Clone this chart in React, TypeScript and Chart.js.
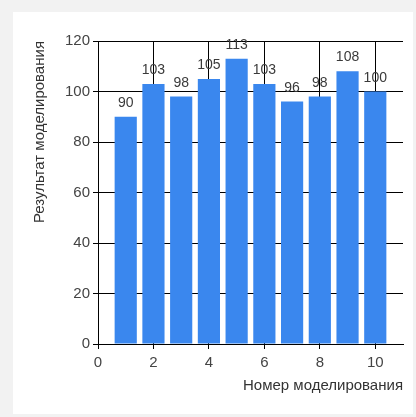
import React, { useEffect, useRef } from "react";
import { Chart, registerables } from "chart.js";

Chart.register(...registerables);

const runs = [1, 2, 3, 4, 5, 6, 7, 8, 9, 10];
const results = [90, 103, 98, 105, 113, 103, 96, 98, 108, 100];
const xTicks = [0, 2, 4, 6, 8, 10];
const yTitle = "Результат моделирования";
const xTitle = "Номер моделирования";

const FONT = "'Liberation Sans', Arial, sans-serif";

const labelPlugin = {
  id: "barLabels",
  afterDatasetsDraw(chart: any) {
    const ctx = chart.ctx;
    const meta = chart.getDatasetMeta(0);
    ctx.save();
    ctx.font = `14px ${FONT}`;
    ctx.fillStyle = "#3a3a3a";
    ctx.textAlign = "center";
    ctx.textBaseline = "alphabetic";
    meta.data.forEach((el: any, i: number) => {
      ctx.fillText(String(results[i]), el.x, el.y - 10);
    });
    ctx.restore();
  },
};

export default function App() {
  const ref = useRef<HTMLCanvasElement>(null);
  useEffect(() => {
    if (!ref.current) return;
    const chart = new Chart(ref.current, {
      type: "bar",
      data: {
        datasets: [
          {
            data: runs.map((r, i) => ({ x: r, y: results[i] })),
            backgroundColor: "#3a87ee",
            borderWidth: 0,
            barPercentage: 0.8,
            categoryPercentage: 1,
          },
        ],
      },
      options: {
        animation: false,
        responsive: false,
        maintainAspectRatio: false,
        layout: { padding: { left: 0, top: 29, right: 10, bottom: 0 } },
        plugins: { legend: { display: false }, tooltip: { enabled: false } },
        scales: {
          x: {
            type: "linear",
            min: 0,
            max: 11,
            offset: false,
            afterBuildTicks: (s: any) => {
              s.ticks = xTicks.map((v) => ({ value: v }));
            },
            afterFit: (s: any) => {
              s.height = 70;
            },
            grid: { color: "#000", lineWidth: 1, tickLength: 5, drawTicks: true, offset: false },
            border: { color: "#000", width: 1 },
            ticks: { color: "#444", font: { family: FONT, size: 15 }, padding: 5 },
            title: {
              display: true,
              text: xTitle,
              align: "end",
              color: "#333",
              font: { family: FONT, size: 15 },
              padding: { top: 0, bottom: 19 },
            },
          },
          y: {
            min: 0,
            max: 120,
            ticks: { stepSize: 20, color: "#444", font: { family: FONT, size: 15 }, padding: 3 },
            afterFit: (s: any) => {
              s.width = 85;
            },
            grid: { color: "#000", lineWidth: 1, tickLength: 5 },
            border: { color: "#000", width: 1 },
            title: {
              display: true,
              text: yTitle,
              align: "end",
              color: "#333",
              font: { family: FONT, size: 15 },
              padding: { top: 18, bottom: 0 },
            },
          },
        },
      },
      plugins: [labelPlugin],
    } as any);
    return () => chart.destroy();
  }, []);

  return (
    <div
      style={{
        position: "fixed",
        left: 0,
        top: 0,
        width: 416,
        height: 417,
        background: "#f2f2f2",
      }}
    >
      <div
        style={{
          position: "absolute",
          left: 13,
          top: 12,
          width: 400,
          height: 402,
          background: "#fff",
        }}
      >
        <canvas ref={ref} width={400} height={402} style={{ display: "block" }} />
      </div>
    </div>
  );
}
